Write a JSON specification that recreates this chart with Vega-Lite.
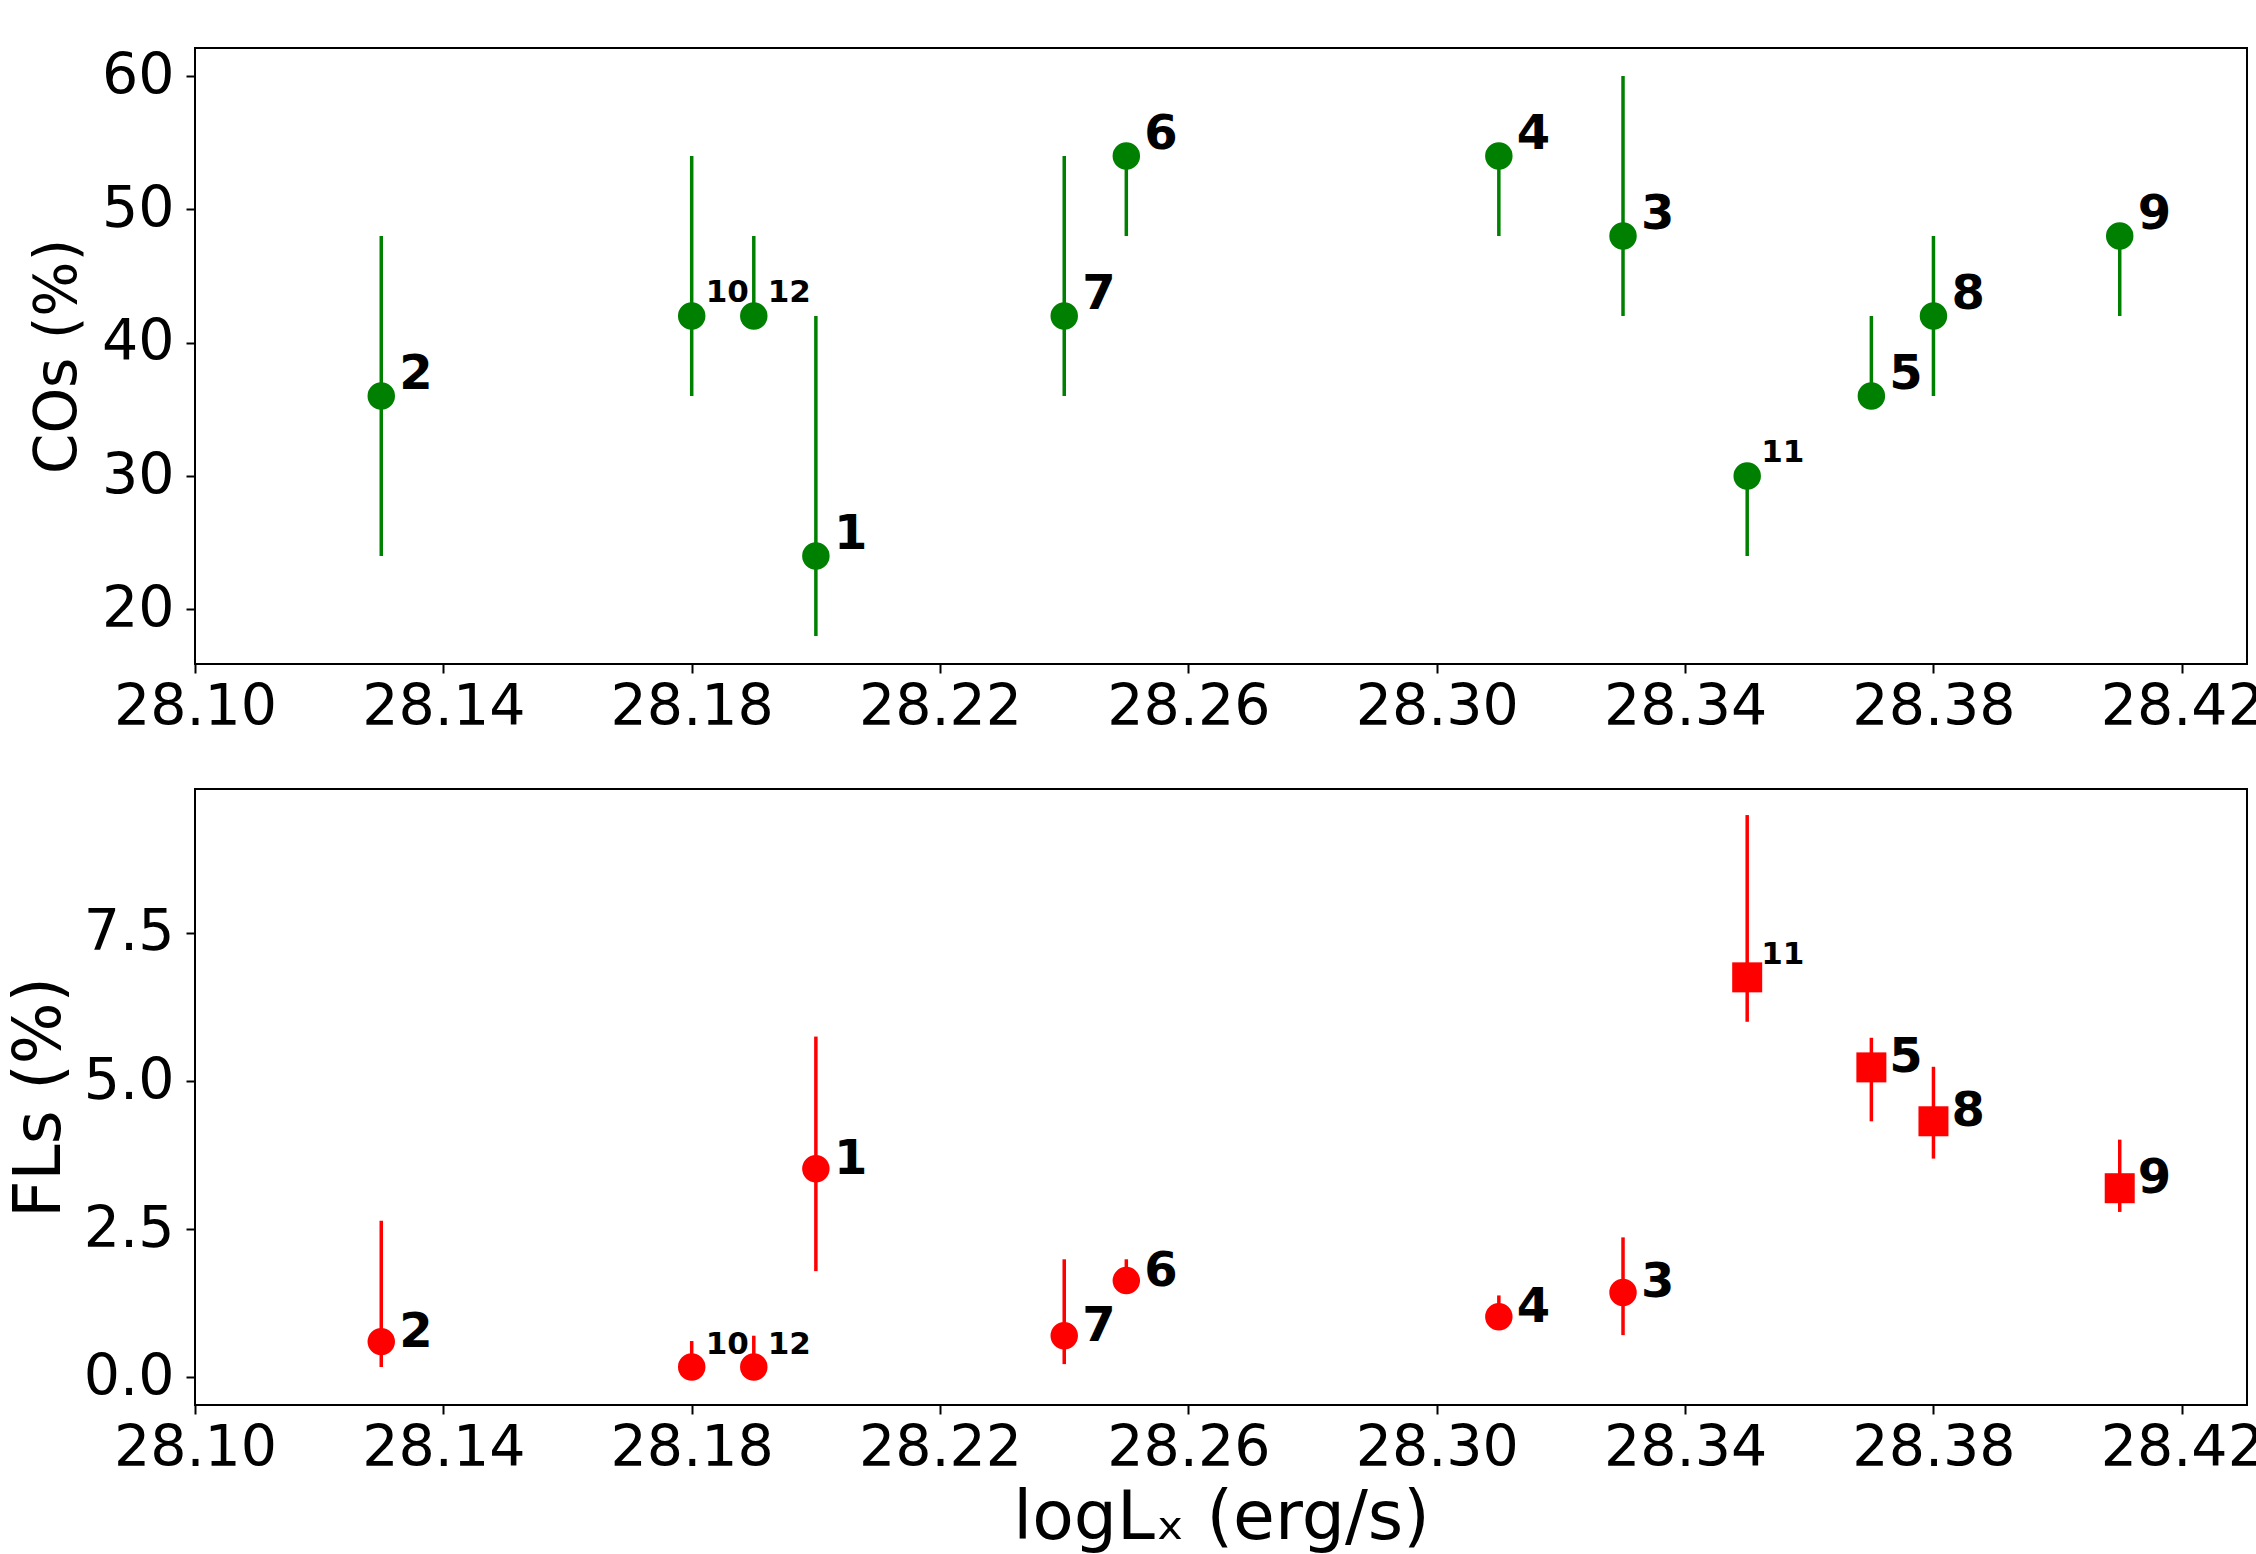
{
  "$schema": "https://vega.github.io/schema/vega-lite/v6.json",
  "background": "white",
  "padding": {"left": 6, "top": 46, "right": 8, "bottom": 0},
  "spacing": 125,
  "bounds": "flush",
  "datasets": {
    "obs": [
      {"id": "1", "lx": 28.20, "co": 24, "co_lo": 18, "co_hi": 42, "fl": 3.52, "fl_lo": 1.79, "fl_hi": 5.75, "grp": "a"},
      {"id": "2", "lx": 28.13, "co": 36, "co_lo": 24, "co_hi": 48, "fl": 0.60, "fl_lo": 0.17, "fl_hi": 2.64, "grp": "a"},
      {"id": "3", "lx": 28.33, "co": 48, "co_lo": 42, "co_hi": 60, "fl": 1.43, "fl_lo": 0.71, "fl_hi": 2.36, "grp": "a"},
      {"id": "4", "lx": 28.31, "co": 54, "co_lo": 48, "co_hi": 54, "fl": 1.02, "fl_lo": 0.80, "fl_hi": 1.38, "grp": "a"},
      {"id": "5", "lx": 28.37, "co": 36, "co_lo": 36, "co_hi": 42, "fl": 5.23, "fl_lo": 4.32, "fl_hi": 5.73, "grp": "b"},
      {"id": "6", "lx": 28.25, "co": 54, "co_lo": 48, "co_hi": 54, "fl": 1.63, "fl_lo": 1.63, "fl_hi": 1.99, "grp": "a"},
      {"id": "7", "lx": 28.24, "co": 42, "co_lo": 36, "co_hi": 54, "fl": 0.70, "fl_lo": 0.22, "fl_hi": 1.99, "grp": "a"},
      {"id": "8", "lx": 28.38, "co": 42, "co_lo": 36, "co_hi": 48, "fl": 4.32, "fl_lo": 3.69, "fl_hi": 5.24, "grp": "b"},
      {"id": "9", "lx": 28.41, "co": 48, "co_lo": 42, "co_hi": 48, "fl": 3.19, "fl_lo": 2.79, "fl_hi": 4.01, "grp": "b"},
      {"id": "10", "lx": 28.18, "co": 42, "co_lo": 36, "co_hi": 54, "fl": 0.17, "fl_lo": 0.0, "fl_hi": 0.61, "grp": "a"},
      {"id": "11", "lx": 28.35, "co": 30, "co_lo": 24, "co_hi": 30, "fl": 6.75, "fl_lo": 6.0, "fl_hi": 9.49, "grp": "b"},
      {"id": "12", "lx": 28.19, "co": 42, "co_lo": 42, "co_hi": 48, "fl": 0.17, "fl_lo": 0.0, "fl_hi": 0.70, "grp": "a"}
    ]
  },
  "config": {
    "font": "DejaVu Sans",
    "view": {"stroke": "black", "strokeWidth": 2},
    "axis": {
      "domain": false,
      "grid": false,
      "ticks": true,
      "tickColor": "black",
      "tickWidth": 2,
      "tickSize": 9,
      "labelFont": "DejaVu Sans",
      "labelFontSize": 57,
      "labelColor": "black",
      "titleFont": "DejaVu Sans",
      "titleFontWeight": "normal",
      "titleColor": "black"
    },
    "axisX": {"labelPadding": 6, "labelFlush": false, "labelOverlap": false},
    "axisY": {"labelPadding": 12, "titlePadding": 10}
  },
  "vconcat": [
    {
      "width": 2052,
      "height": 616,
      "data": {"name": "obs"},
      "encoding": {
        "x": {
          "field": "lx", "type": "quantitative",
          "scale": {"domain": [28.10, 28.4305], "nice": false, "zero": false},
          "axis": {"title": null, "values": [28.10, 28.14, 28.18, 28.22, 28.26, 28.30, 28.34, 28.38, 28.42], "format": ".2f"}
        }
      },
      "layer": [
        {
          "mark": {"type": "rule", "color": "#008000", "strokeWidth": 3.5},
          "encoding": {
            "y": {"field": "co_lo", "type": "quantitative",
              "scale": {"domain": [15.9, 62.1], "nice": false, "zero": false},
              "axis": {"title": "COs (%)", "titleFontSize": 58, "titlePadding": 14, "values": [20, 30, 40, 50, 60]}},
            "y2": {"field": "co_hi"}
          }
        },
        {
          "mark": {"type": "point", "shape": "circle", "filled": true, "color": "#008000", "opacity": 1, "size": 755, "strokeWidth": 0},
          "encoding": {"y": {"field": "co", "type": "quantitative"}}
        },
        {
          "transform": [{"filter": "toNumber(datum.id) < 10"}],
          "mark": {"type": "text", "align": "left", "baseline": "alphabetic", "dx": 18, "dy": -7, "fontSize": 48, "fontWeight": "bold", "color": "black"},
          "encoding": {"y": {"field": "co", "type": "quantitative"}, "text": {"field": "id"}}
        },
        {
          "transform": [{"filter": "toNumber(datum.id) >= 10"}],
          "mark": {"type": "text", "align": "left", "baseline": "alphabetic", "dx": 14, "dy": -14, "fontSize": 31, "fontWeight": "bold", "color": "black"},
          "encoding": {"y": {"field": "co", "type": "quantitative"}, "text": {"field": "id"}}
        }
      ]
    },
    {
      "width": 2052,
      "height": 616,
      "data": {"name": "obs"},
      "encoding": {
        "x": {
          "field": "lx", "type": "quantitative",
          "scale": {"domain": [28.10, 28.4305], "nice": false, "zero": false},
          "axis": {"title": "logLₓ (erg/s)", "titleFontSize": 68, "titlePadding": 8, "values": [28.10, 28.14, 28.18, 28.22, 28.26, 28.30, 28.34, 28.38, 28.42], "format": ".2f"}
        }
      },
      "layer": [
        {
          "mark": {"type": "rule", "color": "#ff0000", "strokeWidth": 3.5},
          "encoding": {
            "y": {"field": "fl_lo", "type": "quantitative",
              "scale": {"domain": [-0.47, 9.93], "nice": false, "zero": false},
              "axis": {"title": "FLs (%)", "titleFontSize": 65, "values": [0, 2.5, 5, 7.5], "format": ".1f"}},
            "y2": {"field": "fl_hi"}
          }
        },
        {
          "transform": [{"filter": "datum.grp == 'a'"}],
          "mark": {"type": "point", "shape": "circle", "filled": true, "color": "#ff0000", "opacity": 1, "size": 755, "strokeWidth": 0},
          "encoding": {"y": {"field": "fl", "type": "quantitative"}}
        },
        {
          "transform": [{"filter": "datum.grp == 'b'"}],
          "mark": {"type": "point", "shape": "square", "filled": true, "color": "#ff0000", "opacity": 1, "size": 900, "strokeWidth": 0},
          "encoding": {"y": {"field": "fl", "type": "quantitative"}}
        },
        {
          "transform": [{"filter": "toNumber(datum.id) < 10"}],
          "mark": {"type": "text", "align": "left", "baseline": "alphabetic", "dx": 18, "dy": 5, "fontSize": 48, "fontWeight": "bold", "color": "black"},
          "encoding": {"y": {"field": "fl", "type": "quantitative"}, "text": {"field": "id"}}
        },
        {
          "transform": [{"filter": "toNumber(datum.id) >= 10"}],
          "mark": {"type": "text", "align": "left", "baseline": "alphabetic", "dx": 14, "dy": -13, "fontSize": 31, "fontWeight": "bold", "color": "black"},
          "encoding": {"y": {"field": "fl", "type": "quantitative"}, "text": {"field": "id"}}
        }
      ]
    }
  ]
}
